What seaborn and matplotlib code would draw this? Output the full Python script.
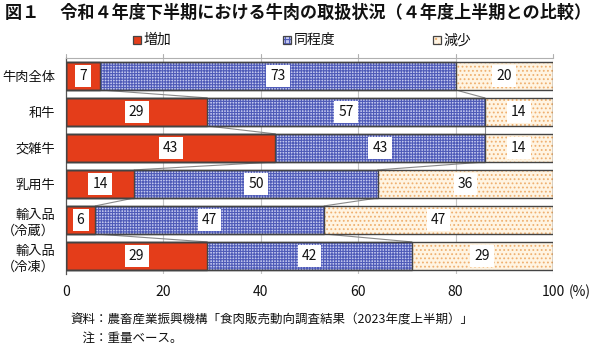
import numpy as np
import pandas as pd
import matplotlib
matplotlib.use("Agg")
import matplotlib.pyplot as plt
from matplotlib.patches import Rectangle
import seaborn as sns

categories = ["牛肉全体", "和牛", "交雑牛", "乳用牛", "輸入品\n（冷蔵）", "輸入品\n（冷凍）"]
increase = [7, 29, 43, 14, 6, 29]
same = [73, 57, 43, 50, 47, 42]
decrease = [20, 14, 14, 36, 47, 29]
legend_labels = ["増加", "同程度", "減少"]
xticks = [0, 20, 40, 60, 80, 100]

sns.set_theme(style="white")
plt.rcParams["font.family"] = ["Noto Sans CJK JP", "DejaVu Sans"]
plt.rcParams["hatch.linewidth"] = 0.8

RED = "#E43D1A"
BLUE_FACE = "#C3C8EF"
BLUE_HATCH = "#4F5BB8"
BEIGE_FACE = "#FFF4E2"
BEIGE_HATCH = "#EFB070"
EDGE = "#444444"
W = 0.78

df = pd.DataFrame({"cat": categories, "inc": increase, "same": same, "dec": decrease})
df["cum_inc"] = df["inc"]
df["cum_same"] = df["inc"] + df["same"]
df["cum_all"] = df["cum_same"] + df["dec"]

fig = plt.figure(figsize=(6.0, 3.49), dpi=100)
ax = fig.add_axes([0.11, 0.215, 0.8117, 0.619])

# grid lines behind the bars
for t in xticks[1:]:
    ax.axvline(t, color="#C4C4C4", lw=0.8, zorder=0)

# stacked layers, drawn back to front; patterns drawn first, outlines on top
layers = [
    ("cum_all", BEIGE_FACE, BEIGE_HATCH, "...."),
    ("cum_same", BLUE_FACE, BLUE_HATCH, "++++++"),
    ("cum_inc", RED, RED, None),
]
for col, face, hcol, hatch in layers:
    sns.barplot(data=df, x=col, y="cat", order=categories, orient="h",
                width=W, color=face, saturation=1, edgecolor=hcol,
                linewidth=0, hatch=hatch, ax=ax, zorder=2)
    sns.barplot(data=df, x=col, y="cat", order=categories, orient="h",
                width=W, fill=False, edgecolor=EDGE, linewidth=1.0,
                ax=ax, zorder=3)

# series lines joining segment boundaries of neighbouring bars
for col in ["cum_inc", "cum_same"]:
    vals = df[col].to_numpy()
    for i in range(len(vals) - 1):
        ax.plot([vals[i], vals[i + 1]], [i + W / 2, i + 1 - W / 2],
                color="#8A8A8A", lw=0.8, zorder=1)

# value labels
for i, row in df.iterrows():
    starts = [0, row["cum_inc"], row["cum_same"]]
    for s, v in zip(starts, [row["inc"], row["same"], row["dec"]]):
        ax.text(s + v / 2, i, f"{v}", ha="center", va="center", fontsize=10,
                color="#111111", zorder=5,
                bbox=dict(boxstyle="square,pad=0.3", fc="white", ec="none"))

ax.set_xlim(0, 100)
ax.set_ylim(len(categories) - 0.5, -0.5)
ax.set_xticks(xticks)
ax.set_xticklabels([str(t) for t in xticks], fontsize=10, color="#111111")
ax.tick_params(axis="x", length=0, pad=8)
ax.tick_params(axis="y", length=0, pad=8, labelsize=9.5, labelcolor="#111111")
for lab in ax.get_yticklabels():
    lab.set_multialignment("right")
    lab.set_linespacing(1.35)
ax.set_xlabel("")
ax.set_ylabel("")

for side in ["right", "bottom"]:
    ax.spines[side].set_visible(False)
ax.spines["left"].set_color("#555555")
ax.spines["left"].set_linewidth(0.9)
ax.spines["top"].set_color("#B0B0B0")
ax.spines["top"].set_linewidth(0.8)

# short ticks above the top frame line
for t in xticks:
    ax.plot([t, t], [-0.5, -0.62], color="#B0B0B0", lw=0.8, clip_on=False, zorder=1)

# unit after the last tick label
ax.annotate("(%)", xy=(1, 0), xycoords="axes fraction", xytext=(11, -8),
            textcoords="offset points", ha="left", va="top", fontsize=10,
            color="#111111")

# title
fig.text(0.008, 0.963, "図１　 令和４年度下半期における牛肉の取扱状況（４年度上半期との比較）",
         fontsize=12.3, fontweight="bold", ha="left", va="center", color="#111111")

# legend
leg_x = [0.222, 0.472, 0.722]
leg_face = [RED, BLUE_FACE, BEIGE_FACE]
leg_hatch = [None, "++++", "..."]
leg_hcol = [RED, BLUE_HATCH, BEIGE_HATCH]
ly = 0.885
sw, sh = 0.013, 0.024
for x, lab, fc, hh, hc in zip(leg_x, legend_labels, leg_face, leg_hatch, leg_hcol):
    fig.patches.append(Rectangle((x, ly - sh / 2), sw, sh, transform=fig.transFigure,
                                 facecolor=fc, edgecolor=hc, hatch=hh, lw=0))
    fig.patches.append(Rectangle((x, ly - sh / 2), sw, sh, transform=fig.transFigure,
                                 facecolor="none", edgecolor=EDGE, lw=0.9))
    fig.text(x + sw + 0.004, ly, lab, fontsize=10, ha="left", va="center",
             color="#111111")

# source and note
fig.text(0.117, 0.083, "資料：農畜産業振興機構「食肉販売動向調査結果（2023年度上半期）」",
         fontsize=9, ha="left", va="center", color="#111111")
fig.text(0.117, 0.030, "　注：重量ベース。",
         fontsize=9, ha="left", va="center", color="#111111")

fig.savefig("out.png", dpi=100)
